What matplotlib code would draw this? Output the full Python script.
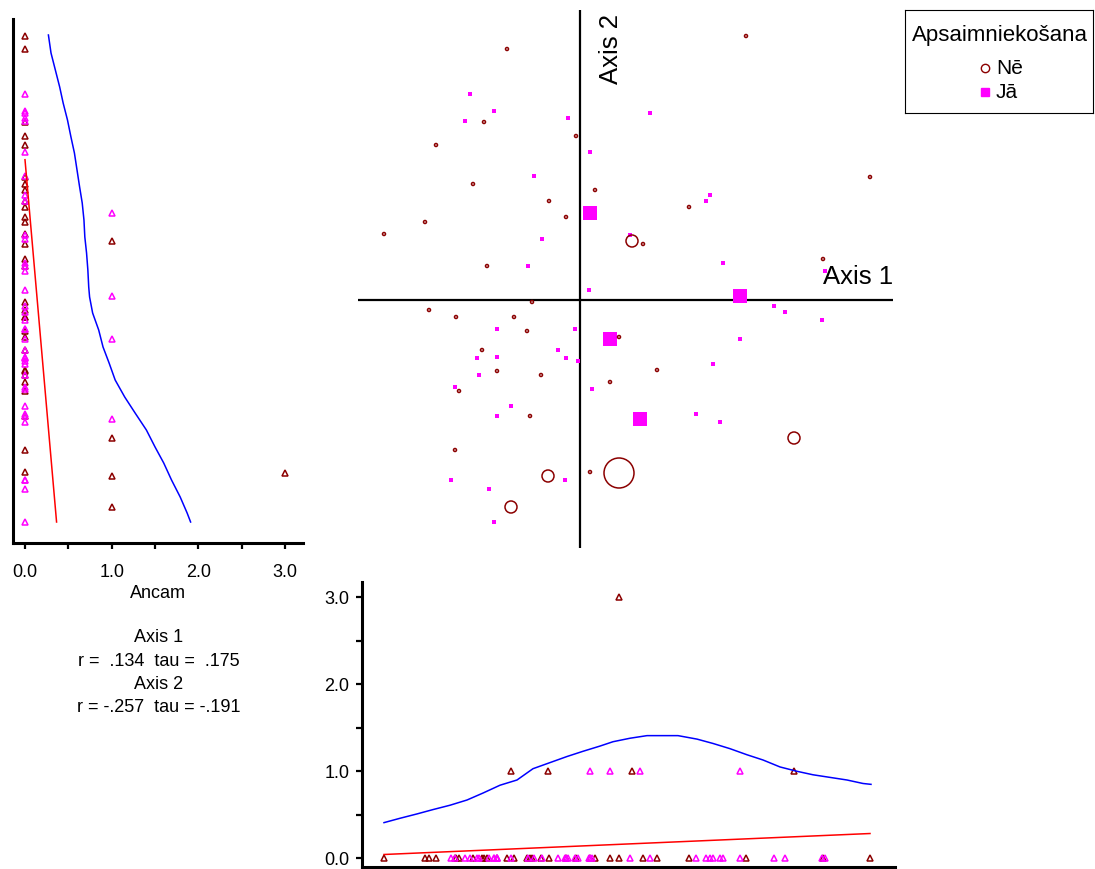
import matplotlib
matplotlib.use("Agg")

import matplotlib.pyplot as plt
from matplotlib.ticker import FixedLocator
import numpy as np

plt.rcParams['font.family'] = ['Liberation Sans', 'DejaVu Sans']

W, H = 1095, 869

# ordination scores of the plots, grazing group and Ancam value
axis1 = [-0.73, -0.96, -0.04, -1.44, -1.07, 0.15, -0.31, -0.14, -1.55, -1.96,
         -0.93, 1.66, 2.90, 1.09, 0.52, 0.63, 2.43, -0.48, -1.51, -1.24,
         -0.66, -0.53, 0.39, -0.98, -0.83, -0.39, -1.21, 0.30, -0.50, -1.25,
         0.10, 0.39, -0.32, -0.69, 0.77, 2.14,
         -1.10, -0.86, -1.15, -0.12, 0.10, -0.46, 0.10, -0.38, -0.52, 0.09,
         0.70, 1.30, 1.26, 0.50, 1.43, 2.45, -0.83, -0.05, 0.30, -0.22,
         -1.03, -0.83, -0.14, -0.02, -1.01, -1.25, 0.12, -0.69, -0.83, -1.29,
         -0.15, -0.91, -0.86, 1.60, 1.94, 2.05, 2.42, 1.60, 1.33, 1.16,
         1.40, 0.60]
axis2 = [2.51, 1.78, 1.64, 1.55, 1.16, 1.10, 0.99, 0.83, 0.78, 0.66,
         0.34, 2.64, 1.23, 0.93, 0.59, 0.56, 0.41, -0.02, -0.10, -0.17,
         -0.17, -0.31, -0.37, -0.50, -0.71, -0.75, -0.91, -0.82, -1.16, -1.50,
         -1.72, -1.73, -1.76, -2.07, -0.70, -1.38,
         2.06, 1.89, 1.79, 1.82, 1.48, 1.24, 0.87, 0.61, 0.34, 0.10,
         1.87, 1.05, 0.99, 0.65, 0.37, 0.29, -0.29, -0.29, -0.39, -0.50,
         -0.58, -0.57, -0.58, -0.61, -0.75, -0.87, -0.89, -1.06, -1.16, -1.80,
         -1.80, -1.89, -2.22, 0.04, -0.06, -0.12, -0.20, -0.39, -0.64, -1.14,
         -1.22, -1.19]
group = ['Nē'] * 36 + ['Jā'] * 42
ancam = [0, 0, 0, 0, 0, 0, 0, 0, 0, 0,
         0, 0, 0, 0, 1, 0, 0, 0, 0, 0,
         0, 0, 0, 0, 0, 0, 0, 0, 0, 0,
         0, 3, 1, 1, 0, 1,
         0, 0, 0, 0, 0, 0, 1, 0, 0, 0,
         0, 0, 0, 0, 0, 0, 0, 0, 1, 0,
         0, 0, 0, 0, 0, 0, 0, 0, 0, 0,
         0, 0, 0, 1, 0, 0, 0, 0, 0, 0,
         0, 1]

# linear fits of Ancam on the axes
lin_int = 0.141
slope_ax1 = 0.0496
slope_ax2 = -0.1005

# smoothed Ancam along Axis 1 (bottom panel)
smooth1_x = [-1.96, -1.80, -1.63, -1.47, -1.30, -1.13, -0.97, -0.80, -0.63,
             -0.47, -0.30, -0.13, 0.03, 0.20, 0.33, 0.50, 0.67, 0.83, 0.98,
             1.17, 1.33, 1.50, 1.67, 1.83, 2.00, 2.17, 2.33, 2.50, 2.67,
             2.83, 2.91]
smooth1_y = [0.41, 0.46, 0.51, 0.56, 0.61, 0.67, 0.75, 0.84, 0.90,
             1.03, 1.10, 1.17, 1.23, 1.29, 1.34, 1.38, 1.41, 1.41, 1.41,
             1.37, 1.32, 1.26, 1.19, 1.13, 1.05, 1.00, 0.96, 0.93, 0.90,
             0.86, 0.85]
# smoothed Ancam along Axis 2 (left panel)
smooth2_y = [2.65, 2.47, 2.30, 2.13, 1.97, 1.80, 1.63, 1.47, 1.30, 1.13,
             0.97, 0.80, 0.63, 0.47, 0.30, 0.13, 0.03, -0.13, -0.30, -0.47,
             -0.63, -0.80, -0.97, -1.13, -1.30, -1.47, -1.63, -1.80, -1.97,
             -2.13, -2.22]
smooth2_x = [0.27, 0.30, 0.35, 0.40, 0.44, 0.49, 0.53, 0.57, 0.60, 0.63,
             0.66, 0.68, 0.69, 0.71, 0.725, 0.735, 0.745, 0.78, 0.85, 0.90,
             0.97, 1.04, 1.15, 1.27, 1.40, 1.50, 1.60, 1.69, 1.79,
             1.87, 1.91]

stats_lines = ["Axis 1", "r =  .134  tau =  .175", "Axis 2", "r = -.257  tau = -.191"]

colors = {'Nē': '#8B0000', 'Jā': '#FF00FF'}
groups = ['Nē', 'Jā']

a1 = np.array(axis1)
a2 = np.array(axis2)
an = np.array(ancam, dtype=float)
grp = np.array(group)

fig = plt.figure(figsize=(W / 100, H / 100), dpi=100)


def px_axes(l, t, r, b):
    return fig.add_axes([l / W, 1 - b / H, (r - l) / W, (b - t) / H])


# ---- main joint plot ----
ax = px_axes(358, 10, 893, 548)
ax.set_xlim((358 - 580) / 100, (893 - 580) / 100)
ax.set_ylim((300 - 548) / 100, (300 - 10) / 100)
ax.axis('off')
ax.axhline(0, color='black', lw=1.6, zorder=1)
ax.axvline(0, color='black', lw=1.6, zorder=1)

m = grp == 'Nē'
d = (3 + 9 * an[m]) * 0.72
ax.scatter(a1[m], a2[m], s=d ** 2, marker='o', facecolors='none',
           edgecolors=colors['Nē'], linewidths=1.1, zorder=3)
m = grp == 'Jā'
d = (4 + 9.3 * an[m]) * 0.72
ax.scatter(a1[m], a2[m], s=d ** 2, marker='s', color=colors['Jā'],
           linewidths=0, zorder=2)

ax.text(3.13, 0.11, "Axis 1", ha='right', va='bottom', fontsize=18.5)
ax.text(0.185, 2.86, "Axis 2", rotation=90, ha='left', va='top', fontsize=18.5)

# ---- legend ----
lg = px_axes(905, 10, 1093, 113)
lg.set_xlim(905, 1093)
lg.set_ylim(113, 10)
lg.set_xticks([])
lg.set_yticks([])
for s in lg.spines.values():
    s.set_linewidth(0.8)
lg.text(1000, 35, "Apsaimniekošana", ha='center', va='center', fontsize=16)
lg.plot([985], [68], marker='o', ms=6, mfc='none', mec=colors['Nē'], mew=1.0)
lg.plot([985], [92], marker='s', ms=6, mfc=colors['Jā'], mec=colors['Jā'])
lg.text(996, 68, "Nē", ha='left', va='center', fontsize=15)
lg.text(996, 92, "Jā", ha='left', va='center', fontsize=15)

# ---- left panel: Ancam vs Axis 2 ----
al = px_axes(13, 19, 303, 543)
al.set_xlim((13 - 25) / 86.7, (303 - 25) / 86.7)
al.set_ylim((300 - 543) / 100, (300 - 19) / 100)
for g in groups:
    m = grp == g
    al.plot(an[m], a2[m], ls='none', marker='^', ms=5, mfc='none',
            mec=colors[g], mew=1.1)
y0 = -lin_int / slope_ax2
yy = np.array([a2.min(), y0])
al.plot(lin_int + slope_ax2 * yy, yy, color='red', lw=1.1)
al.plot(smooth2_x, smooth2_y, color='blue', lw=1.1)
al.spines['top'].set_visible(False)
al.spines['right'].set_visible(False)
al.spines['left'].set_linewidth(2.2)
al.spines['bottom'].set_linewidth(2.2)
al.set_yticks([])
al.set_xticks([0, 1, 2, 3])
al.set_xticklabels(["0.0", "1.0", "2.0", "3.0"])
al.xaxis.set_minor_locator(FixedLocator([0.5, 1.5, 2.5]))
al.tick_params(axis='x', which='both', direction='out', length=4, width=1.6,
               labelsize=13, pad=11)
al.set_xlabel("Ancam", fontsize=13, labelpad=3)

for i, line in enumerate(stats_lines):
    fig.text(159 / W, 1 - (638 + 23.3 * i) / H, line, ha='center', va='center',
             fontsize=13)

# ---- bottom panel: Axis 1 vs Ancam ----
ab = px_axes(362, 582, 895, 867)
ab.set_xlim((362 - 580) / 100, (895 - 580) / 100)
ab.set_ylim(-(867 - 858.3) / 87, (858.3 - 582) / 87)
for g in groups:
    m = grp == g
    ab.plot(a1[m], an[m], ls='none', marker='^', ms=5, mfc='none',
            mec=colors[g], mew=1.1)
xx = np.array([a1.min(), a1.max()])
ab.plot(xx, lin_int + slope_ax1 * xx, color='red', lw=1.1)
ab.plot(smooth1_x, smooth1_y, color='blue', lw=1.1)
ab.spines['top'].set_visible(False)
ab.spines['right'].set_visible(False)
ab.spines['left'].set_linewidth(2.2)
ab.spines['bottom'].set_linewidth(2.2)
ab.set_xticks([])
ab.set_yticks([0, 1, 2, 3])
ab.set_yticklabels(["0.0", "1.0", "2.0", "3.0"])
ab.yaxis.set_minor_locator(FixedLocator([0.5, 1.5, 2.5]))
ab.tick_params(axis='y', which='both', direction='out', length=4, width=1.6,
               labelsize=13, pad=5)

fig.savefig("out.png", dpi=100)
